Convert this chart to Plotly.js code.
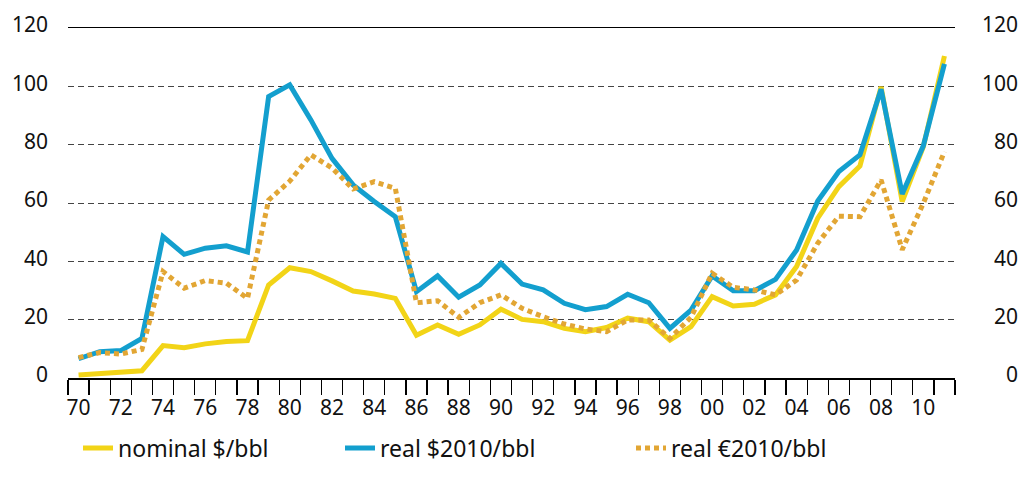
<!DOCTYPE html>
<html>
<head>
<meta charset="utf-8">
<script src="https://cdn.plot.ly/plotly-3.0.1.min.js"></script>
<style>html,body{margin:0;padding:0;background:#fff;}#chart{width:1027px;height:487px;}</style>
</head>
<body>
<div id="chart"></div>
<script>
var years = [1970,1971,1972,1973,1974,1975,1976,1977,1978,1979,1980,1981,1982,1983,1984,1985,1986,1987,1988,1989,1990,1991,1992,1993,1994,1995,1996,1997,1998,1999,2000,2001,2002,2003,2004,2005,2006,2007,2008,2009,2010,2011];
var nominalUSD = [1.0,1.6,1.8,2.5,11.1,10.4,11.7,12.5,12.8,31.9,37.8,36.5,33.3,29.8,28.8,27.3,14.7,18.2,15.0,18.2,23.6,20.1,19.3,17.0,15.9,17.3,20.5,19.3,13.0,17.6,27.9,24.7,25.3,28.5,38.2,54.8,65.6,72.7,99.8,60.5,79.3,110.4];
var realUSD2010 = [6.6,9.0,9.4,13.6,48.5,42.4,44.5,45.3,43.2,96.5,100.5,88.5,75.3,66.2,60.5,55.3,29.6,35.0,27.7,31.9,39.3,32.2,30.2,25.6,23.4,24.5,28.7,25.8,17.0,23.3,35.0,29.9,29.9,33.8,43.9,60.7,70.8,76.5,99.0,63.1,79.6,107.7];
var realEUR2010 = [7.0,8.7,8.2,9.8,36.5,30.8,33.4,32.5,27.3,61.0,67.5,76.5,72.0,64.8,67.3,65.0,25.8,26.5,20.8,25.8,28.5,23.9,21.0,18.5,16.8,15.9,19.9,19.9,13.6,20.8,35.9,31.1,30.2,28.5,33.6,46.2,55.5,55.3,67.9,44.0,59.9,77.6];
var seriesNames = ["nominal $/bbl","real $2010/bbl","real €2010/bbl"];
var xTickVals = [1970,1972,1974,1976,1978,1980,1982,1984,1986,1988,1990,1992,1994,1996,1998,2000,2002,2004,2006,2008,2010];
var xTickText = ["70","72","74","76","78","80","82","84","86","88","90","92","94","96","98","00","02","04","06","08","10"];
var yTickVals = [0,20,40,60,80,100,120];

var FONT = "Noto Sans, DejaVu Sans, sans-serif";
var traces = [
  {x: years, y: nominalUSD, name: seriesNames[0], type: "scatter", mode: "lines",
   line: {color: "#F2D417", width: 5}, legend: "legend"},
  {x: years, y: realUSD2010, name: seriesNames[1], type: "scatter", mode: "lines",
   line: {color: "#139FCE", width: 5}, legend: "legend2"},
  {x: years, y: realEUR2010, name: seriesNames[2], type: "scatter", mode: "lines", yaxis: "y2",
   line: {color: "#E2A634", width: 5, dash: "5px,4px"}, legend: "legend3"}
];

function legendCfg(xpx) {
  return {orientation: "h", x: (xpx - 68) / 887, xanchor: "left", y: -0.2, yanchor: "middle",
    bgcolor: "rgba(0,0,0,0)", font: {family: FONT, size: 23, color: "#111"}};
}

var layout = {
  width: 1027, height: 487, autosize: false,
  margin: {l: 68, r: 72, t: 28, b: 109},
  paper_bgcolor: "#fff", plot_bgcolor: "#fff",
  font: {family: FONT, size: 21, color: "#111"},
  showlegend: true,
  xaxis: {
    range: [1969.5, 2011.5], tickmode: "array", tickvals: xTickVals, ticktext: xTickText,
    ticks: "", showgrid: false, zeroline: false,
    showline: true, linecolor: "#000", linewidth: 1.5, mirror: true,
    ticklabelstandoff: 10,
    tickfont: {family: FONT, size: 21, color: "#111"},
    minor: {tickmode: "linear", tick0: 1969.5, dtick: 1, ticks: "outside", ticklen: 15,
            tickwidth: 1.3, tickcolor: "#000", showgrid: false}
  },
  yaxis: {
    range: [0, 120], tickmode: "array", tickvals: yTickVals,
    ticks: "", showgrid: true, gridcolor: "#444", gridwidth: 1, griddash: "6px,4px",
    zeroline: false, showline: false, ticklabelstandoff: 19, ticklabelshift: -3,
    tickfont: {family: FONT, size: 21, color: "#111"}
  },
  yaxis2: {
    overlaying: "y", side: "right", range: [0, 120], tickmode: "array", tickvals: yTickVals,
    ticktext: yTickVals.map(function(v){ return String(v).padStart(3, "\u2007"); }),
    ticks: "", showgrid: false, zeroline: false, showline: false, ticklabelstandoff: 26,
    ticklabelshift: -3,
    tickfont: {family: FONT, size: 21, color: "#111"}
  },
  legend: legendCfg(78),
  legend2: legendCfg(340),
  legend3: legendCfg(631)
};

Plotly.newPlot("chart", traces, layout, {displayModeBar: false, staticPlot: true});
</script>
</body>
</html>
